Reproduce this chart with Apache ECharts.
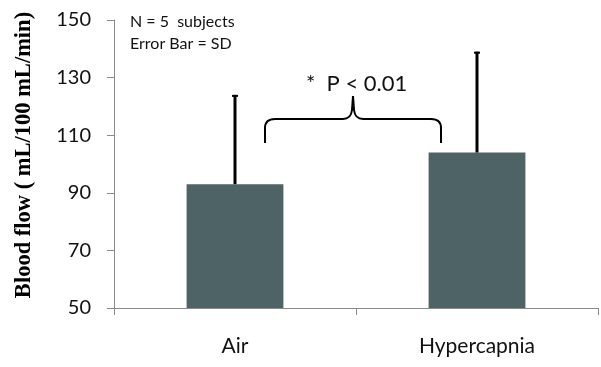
<!DOCTYPE html>
<html>
  <head>
    <meta charset="utf-8" />
    <title>Blood flow</title>
    <script src="https://cdn.jsdelivr.net/npm/echarts@6/dist/echarts.min.js"></script>
    <style>
      body {
        margin: 0;
        background: #fff;
      }
      #main {
        width: 601px;
        height: 367px;
      }
    </style>
  </head>
  <body>
    <div id="main"></div>
    <script type="text/javascript">
      var categories = ["Air", "Hypercapnia"];
      var means = [93, 104];
      var sds = [31, 35];
      var yTicks = [50, 70, 90, 110, 130, 150];

      var myChart = echarts.init(document.getElementById("main"));

      var errorData = means.map(function (m, i) {
        return [i, m, m + sds[i]];
      });

      // curly brace over the two bars, in pixels
      var braceStyle = { stroke: "#000", lineWidth: 2, fill: null };
      function seg(x1, y1, x2, y2) {
        return { type: "line", shape: { x1: x1, y1: y1, x2: x2, y2: y2 }, style: braceStyle };
      }
      function curve(x1, y1, cx, cy, x2, y2) {
        return {
          type: "bezierCurve",
          shape: { x1: x1, y1: y1, cpx1: cx, cpy1: cy, x2: x2, y2: y2 },
          style: braceStyle,
        };
      }
      var brace = [
        seg(265, 143, 265, 128),
        curve(265, 128, 265, 119, 275, 119),
        seg(275, 119, 343, 119),
        curve(343, 119, 351, 119, 352, 110),
        seg(352, 110, 353, 96),
        seg(353, 96, 354, 110),
        curve(354, 110, 355, 119, 363, 119),
        seg(363, 119, 431, 119),
        curve(431, 119, 441, 119, 441, 128),
        seg(441, 128, 441, 143),
      ];

      var option = {
        animation: false,
        textStyle: { fontFamily: "Lato" },
        grid: {
          left: 114,
          right: 3,
          top: 20,
          bottom: 59,
          outerBoundsMode: "none",
        },
        xAxis: {
          type: "category",
          data: categories,
          axisLine: { lineStyle: { color: "#8a8a8a", width: 1 } },
          axisTick: { show: true, length: 7, lineStyle: { color: "#8a8a8a" } },
          axisLabel: { color: "#111", fontSize: 21, margin: 28 },
        },
        yAxis: {
          type: "value",
          min: yTicks[0],
          max: yTicks[yTicks.length - 1],
          interval: 20,
          axisLine: { show: true, lineStyle: { color: "#8a8a8a", width: 1 } },
          axisTick: { show: true, length: 7, lineStyle: { color: "#8a8a8a" } },
          splitLine: { show: false },
          axisLabel: { color: "#111", fontSize: 20, margin: 23 },
        },
        series: [
          {
            type: "bar",
            data: means,
            barWidth: "40%",
            itemStyle: { color: "#4e6366" },
          },
          {
            type: "custom",
            data: errorData,
            z: 5,
            renderItem: function (params, api) {
              var base = api.coord([api.value(0), api.value(1)]);
              var top = api.coord([api.value(0), api.value(2)]);
              return {
                type: "group",
                children: [
                  {
                    type: "line",
                    shape: { x1: base[0], y1: base[1], x2: top[0], y2: top[1] },
                    style: { stroke: "#000", lineWidth: 3 },
                  },
                  {
                    type: "line",
                    shape: { x1: top[0] - 3, y1: top[1] + 1, x2: top[0] + 3, y2: top[1] + 1 },
                    style: { stroke: "#000", lineWidth: 2 },
                  },
                ],
              };
            },
          },
        ],
        graphic: [
          {
            type: "text",
            x: 24,
            y: 155,
            rotation: Math.PI / 2,
            style: {
              text: "Blood flow ( mL/100 mL/min)",
              font: "bold 22.5px 'Liberation Serif'",
              fill: "#000",
              align: "center",
              verticalAlign: "middle",
            },
          },
          {
            type: "text",
            x: 130,
            y: 22,
            style: {
              text: "N = 5  subjects",
              font: "16px Lato",
              fill: "#111",
              verticalAlign: "middle",
            },
          },
          {
            type: "text",
            x: 130,
            y: 44,
            style: {
              text: "Error Bar = SD",
              font: "16px Lato",
              fill: "#111",
              verticalAlign: "middle",
            },
          },
          {
            type: "text",
            x: 306,
            y: 84,
            style: {
              text: "*  P < 0.01",
              font: "22px Lato",
              fill: "#111",
              verticalAlign: "middle",
            },
          },
          { type: "group", children: brace },
        ],
      };

      myChart.setOption(option);
    </script>
  </body>
</html>
